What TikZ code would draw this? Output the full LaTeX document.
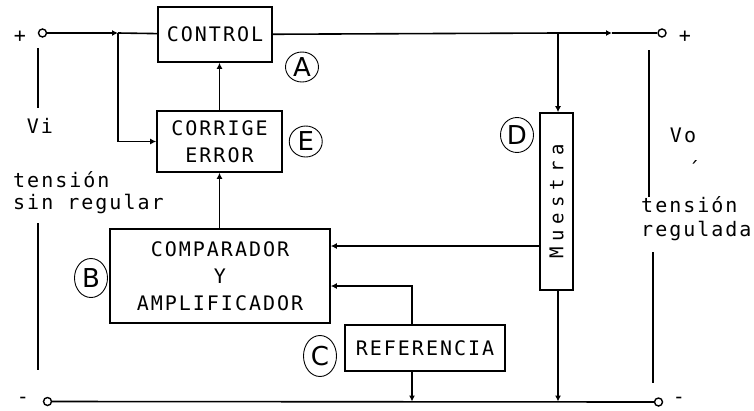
\documentclass[tikz,border=0pt]{standalone}
\usepackage{fontspec}
\usepackage{tikz}
\usetikzlibrary{shapes.geometric, arrows.meta, positioning, calc}
\newfontfamily\pixfont{DejaVu Sans Mono}[LetterSpace=10]
\newfontfamily\pixwide{DejaVu Sans Mono}[LetterSpace=30]
\newfontfamily\tagfont{DejaVu Sans}

\begin{document}
\begin{tikzpicture}[x=1pt, y=-1pt,
        block/.style={rectangle, draw, line width=1.6pt, align=center, inner sep=0pt, font=\pixfont\fontsize{20}{27}\selectfont},
        tag/.style={ellipse, draw, line width=0.9pt, inner sep=0pt, minimum width=33pt, minimum height=35pt, font=\tagfont\fontsize{26}{26}\selectfont},
        term/.style={circle, draw, line width=1.4pt, inner sep=0pt, minimum size=8pt},
        txt/.style={inner sep=0pt, font=\pixfont\fontsize{20}{27}\selectfont},
        wire/.style={line width=1.6pt},
        arrow/.style={-{Latex[length=6pt, width=6pt]}, line width=1.6pt}
    ]
        \useasboundingbox (0,0) rectangle (754,410);

        % blocks of the regulator
        \node[block, minimum width=114pt, minimum height=55pt] (control) at (215,34.5) {CONTROL};
        \node[block, minimum width=125pt, minimum height=61pt] (corrige) at (219.5,141.5) {CORRIGE\\ERROR};
        \node[block, minimum width=220pt, minimum height=94pt] (comparador) at (220,276) {COMPARADOR\\Y\\AMPLIFICADOR};
        \node[block, minimum width=160pt, minimum height=46pt] (referencia) at (425,348) {REFERENCIA};
        \node[block, minimum width=33pt, minimum height=177pt, font=\pixwide\fontsize{19}{20}\selectfont] (muestra) at (556.5,201.5) {\rotatebox{90}{Muestra}};

        % letter tags
        \node[tag, minimum height=30pt] (tagA) at (302,67) {A};
        \node[tag, right=6pt of corrige, minimum height=31pt] (tagE) {E};
        \node[tag] (tagD) at (517,135) {D};
        \node[tag, minimum height=39pt] (tagB) at (91,278) {B};
        \node[tag, minimum height=41pt] (tagC) at (320,356) {C};

        % terminals
        \node[term] (vin) at (42.5,33) {};
        \node[term] (vout) at (662,33) {};
        \node[term] (gin) at (47.5,401.5) {};
        \node[term] (gout) at (658.5,402) {};
        \node[txt] (pin) at (20,37) {+};
        \node[txt] (pout) at (685,37) {+};
        \node[txt, font=\pixfont\fontsize{20}{20}\selectfont] (nin) at (23,400) {-};
        \node[txt, font=\pixfont\fontsize{20}{20}\selectfont] (nout) at (679,400) {-};

        % side texts
        \node[txt] (vi) at (40,126) {Vi};
        \node[txt, anchor=west] (tin) at (13,180) {tensión};
        \node[txt, anchor=west] (sreg) at (13,204) {sin regular};
        \node[txt] (vo) at (683,135) {Vo};
        \node[txt] (acc) at (694,168) {´};
        \node[txt, anchor=west] (tout) at (641,205) {tensión};
        \node[txt, anchor=west] (reg) at (641,231) {regulada};

        \coordinate (j1) at (118,33);
        \coordinate (j2) at (558,33);
        \coordinate (m2) at (612,33);
        \coordinate (fb) at (540,246);
        \coordinate (rf) at (412,286);

        % upper line
        \draw[arrow] (vin) -- (j1);
        \draw[wire] (j1) -- (control);
        \draw[arrow] (j1) |- (corrige.west);
        \draw[arrow] (corrige.north) -- (corrige.north |- control.south);
        \draw[arrow] (comparador.north -| corrige.south) -- (corrige.south);
        \draw[wire] (control) -- (j2);
        \draw[arrow] (j2) -- (m2);
        \draw[wire] (m2) -- (vout);
        \draw[arrow] (j2) -- (j2 |- muestra.north);

        % feedback and reference
        \draw[arrow] (muestra.west |- fb) -- (comparador.east |- fb);
        \draw[arrow] (referencia.north -| rf) |- (comparador.east |- rf);

        % lower line
        \draw[wire] (gin) -- (gout);
        \draw[arrow] (referencia.south -| rf) -- (rf |- gin);
        \draw[arrow] (muestra.south -| j2) -- (j2 |- gin);

        % voltage marks
        \draw[line width=1.2pt] (38,48) -- (38,108);
        \draw[line width=1.2pt] (38,223) -- (38,370);
        \draw[line width=1.2pt] (649,50) -- (649,197);
        \draw[line width=1.2pt] (653,252) -- (653,383);
    \end{tikzpicture}
\end{document}
